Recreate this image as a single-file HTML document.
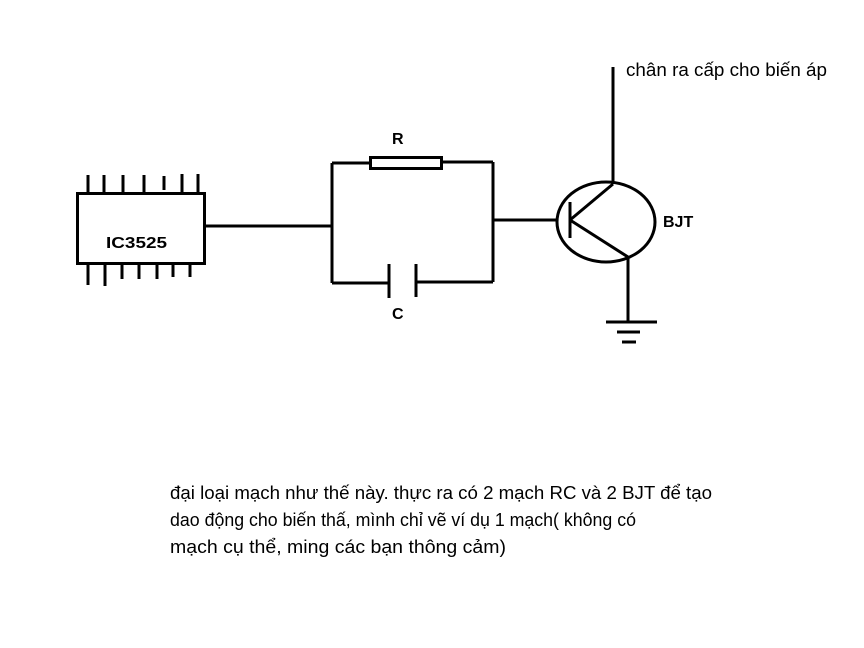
<!DOCTYPE html>
<html><head><meta charset="utf-8"><style>
html,body{margin:0;padding:0;background:#fff;}
svg{display:block;}
text{font-family:"Liberation Sans",sans-serif;fill:#000;}
</style></head><body>
<svg width="864" height="648" viewBox="0 0 864 648" xmlns="http://www.w3.org/2000/svg">
<g stroke="#000" stroke-width="3" fill="none">
<rect x="77.5" y="193.5" width="127" height="70"/>
<path d="M88 175V193M104 175V193M123 175V193M144 175V193M164 176V190M182 174V193M198 174V193"/>
<path d="M88 263V285M105 263V286M122 263V279M139 263V279M157 263V279M173 263V277M190 263V277"/>
<path d="M204 226H332M332 163V283M332 163H370M441 162H493M493 162V282M332 283H389M416 282H493"/>
<rect x="370.5" y="157.5" width="71" height="11"/>
<path d="M389 264V298M416 264V297"/>
<path d="M493 220H556"/>
<ellipse cx="606" cy="222" rx="49" ry="40"/>
<path d="M570 202V238M570 220L613 184M613 184V67M570 220L628 257M628 257V322M606 322H657M617 332H640M622 342H636"/>
</g>
<text x="392" y="144" font-size="16" font-weight="bold">R</text>
<text x="392" y="319" font-size="16" font-weight="bold">C</text>
<text x="663" y="227" font-size="16" font-weight="bold">BJT</text>
<text x="106" y="248" font-size="16" font-weight="bold" textLength="61" lengthAdjust="spacingAndGlyphs">IC3525</text>
<text x="626" y="76" font-size="18" textLength="201" lengthAdjust="spacingAndGlyphs">chân ra cấp cho biến áp</text>
<text x="170" y="499" font-size="18" textLength="542" lengthAdjust="spacingAndGlyphs">đại loại mạch như thế này. thực ra có 2 mạch RC và 2 BJT để tạo</text>
<text x="170" y="526" font-size="18" textLength="466" lengthAdjust="spacingAndGlyphs">dao động cho  biến thấ, mình chỉ vẽ ví dụ 1 mạch( không có</text>
<text x="170" y="553" font-size="18" textLength="336" lengthAdjust="spacingAndGlyphs">mạch cụ thể, ming các bạn thông cảm)</text>
</svg>
</body></html>
